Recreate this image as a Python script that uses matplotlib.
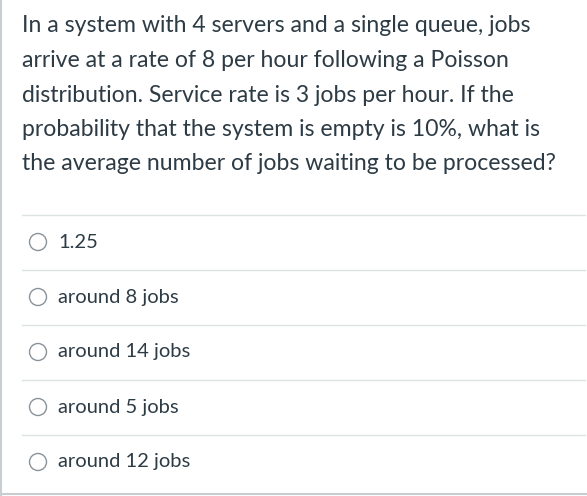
import matplotlib
matplotlib.use("Agg")
import matplotlib.pyplot as plt
from matplotlib.patches import Circle

QUESTION_LINES = [
    "In a system with 4 servers and a single queue, jobs",
    "arrive at a rate of 8 per hour following a Poisson",
    "distribution. Service rate is 3 jobs per hour. If the",
    "probability that the system is empty is 10%, what is",
    "the average number of jobs waiting to be processed?",
]
OPTIONS = ["1.25", "around 8 jobs", "around 14 jobs", "around 5 jobs", "around 12 jobs"]

W, H = 587, 496
fig = plt.figure(figsize=(W / 100, H / 100), dpi=100)
ax = fig.add_axes([0, 0, 1, 1])
ax.set_xlim(0, W)
ax.set_ylim(H, 0)
ax.axis("off")

# left and bottom borders of the quiz box
ax.plot([1, 1], [0, H], color="#c7cdd1", lw=1.5)
ax.plot([0, W], [H - 2, H - 2], color="#c7cdd1", lw=1.5)

txt = "#2d3b45"
for i, line in enumerate(QUESTION_LINES):
    ax.text(22, 26 + i * 34.5, line, fontsize=16.6, family="Lato", color=txt, va="center")

top = 215
step = 55
for i, opt in enumerate(OPTIONS):
    y0 = top + i * step
    ax.plot([22, W - 2], [y0, y0], color="#dde2e5", lw=1)
    cy = y0 + 27
    ax.add_patch(Circle((38, cy), 8.5, fill=False, ec="#8a9399", lw=1))
    ax.text(58, cy, opt, fontsize=14.5, family="Lato", color=txt, va="center")

fig.savefig("out.png", dpi=100)
